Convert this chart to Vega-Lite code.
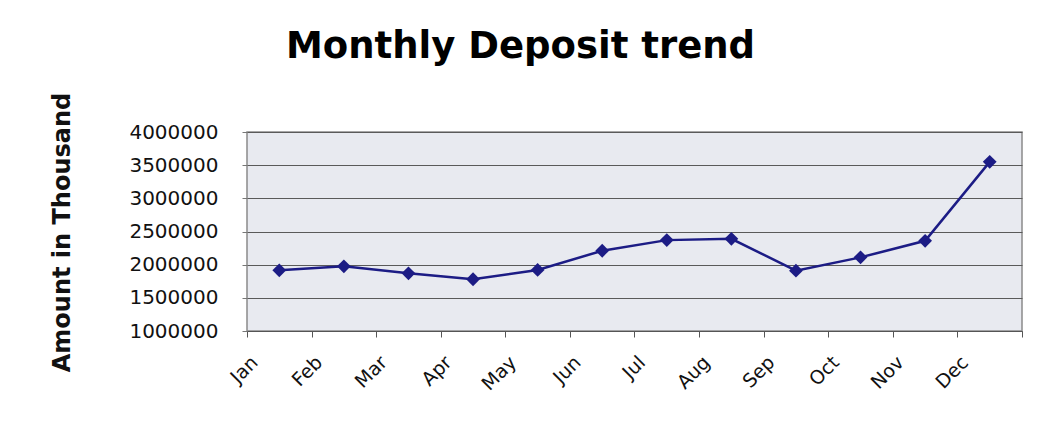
{
  "$schema": "https://vega.github.io/schema/vega-lite/v6.json",
  "autosize": {"type": "none"},
  "width": 775,
  "height": 199,
  "padding": {"left": 247, "top": 132, "right": 24, "bottom": 101},
  "background": "#ffffff",
  "title": {
    "text": "Monthly Deposit trend",
    "font": "DejaVu Sans",
    "fontWeight": "bold",
    "fontSize": 37,
    "color": "#000000",
    "anchor": "middle",
    "dx": -114,
    "baseline": "bottom",
    "offset": -11
  },
  "config": {
    "view": {"fill": "#e8eaf0", "stroke": "#8a8a8a", "strokeWidth": 1.5}
  },
  "data": {
    "values": [
      {"month": "Jan", "amount": 1915000},
      {"month": "Feb", "amount": 1975000},
      {"month": "Mar", "amount": 1870000},
      {"month": "Apr", "amount": 1780000},
      {"month": "May", "amount": 1920000},
      {"month": "Jun", "amount": 2210000},
      {"month": "Jul", "amount": 2370000},
      {"month": "Aug", "amount": 2390000},
      {"month": "Sep", "amount": 1910000},
      {"month": "Oct", "amount": 2110000},
      {"month": "Nov", "amount": 2360000},
      {"month": "Dec", "amount": 3550000}
    ]
  },
  "encoding": {
    "x": {
      "field": "month",
      "type": "ordinal",
      "sort": null,
      "scale": {"type": "band", "paddingInner": 0, "paddingOuter": 0},
      "axis": {
        "title": null,
        "grid": false,
        "domain": true,
        "domainColor": "#555555",
        "tickBand": "extent",
        "tickColor": "#555555",
        "tickSize": 6,
        "labelAngle": -45,
        "labelAlign": "right",
        "labelBaseline": "middle",
        "labelOffset": -25,
        "labelPadding": 22,
        "labelFont": "DejaVu Sans",
        "labelFontSize": 19,
        "labelColor": "#111111"
      }
    },
    "y": {
      "field": "amount",
      "type": "quantitative",
      "scale": {"domain": [1000000, 4000000], "nice": false, "zero": false},
      "axis": {
        "values": [1000000, 1500000, 2000000, 2500000, 3000000, 3500000, 4000000],
        "format": "d",
        "grid": true,
        "gridColor": "#5a5a5a",
        "gridWidth": 1,
        "domain": false,
        "tickColor": "#777777",
        "tickSize": 5,
        "labelPadding": 24,
        "labelFont": "DejaVu Sans",
        "labelFontSize": 20,
        "labelColor": "#111111",
        "title": "Amount in Thousand",
        "titleFont": "DejaVu Sans",
        "titleFontWeight": "bold",
        "titleFontSize": 24,
        "titleColor": "#111111",
        "titleAngle": -90,
        "titleAlign": "center",
        "titleBaseline": "middle",
        "titleX": -185,
        "titleY": 100
      }
    }
  },
  "layer": [
    {
      "mark": {"type": "line", "color": "#1c1c85", "strokeWidth": 2.5}
    },
    {
      "mark": {"type": "point", "shape": "diamond", "filled": true, "size": 190, "color": "#1c1c85", "opacity": 1}
    }
  ]
}
